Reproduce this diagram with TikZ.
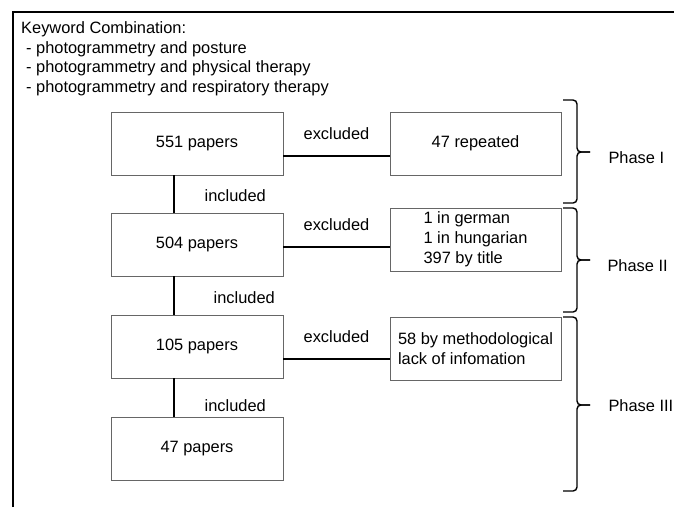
\documentclass[tikz,border=0pt]{standalone}
\usepackage{fontspec}
\setmainfont{Liberation Sans}
\usepackage{tikz}
\usetikzlibrary{positioning}
\newcommand{\flowfont}{\fontsize{16.4}{20}\selectfont}
\tikzstyle{keytext}=[anchor=north west, inner sep=0pt, align=left, font=\fontsize{16.4}{19.7}\selectfont]
\tikzstyle{paperbox}=[rectangle, draw=black!60, line width=0.8pt, minimum width=172pt, minimum height=63pt, text centered, font=\flowfont]
\tikzstyle{outbox}=[rectangle, draw=black!60, line width=0.8pt, minimum width=171pt, minimum height=63pt, align=left, font=\flowfont]
\tikzstyle{lbl}=[font=\flowfont]
\tikzstyle{link}=[draw=black, line width=1.3pt]
\tikzstyle{bracket}=[draw=black, line width=1.4pt, rounded corners=4pt]

\begin{document}
\begin{tikzpicture}[x=1pt,y=-1pt]
\useasboundingbox (0,0) rectangle (674,507);
%Frame
\draw[line width=2.6pt] (13,507) -- (13,12) -- (674,12);
\node[keytext] (kw) at (21,21.5){Keyword Combination:\\
\hspace*{5pt}- photogrammetry and posture\\
\hspace*{5pt}- photogrammetry and physical therapy\\
\hspace*{5pt}- photogrammetry and respiratory therapy};

%Papers
\node[paperbox] (p551) at (197,143.5){551 papers};
\node[paperbox] (p504) at (197,244.5){504 papers};
\node[paperbox] (p105) at (197,346.5){105 papers};
\node[paperbox] (p47) at (197,448.5){47 papers};
%Excluded
\node[outbox] (rep) at (475.5,143.5){47 repeated};
\node[outbox] (lang) at (475.5,239.5){1 in german\\1 in hungarian\\397 by title};
\node[outbox] (meth) at (475.5,348.5){58 by methodological\\lack of infomation};

%Links
\draw[link] ([yshift=-12.5pt]p551.east) -- ([yshift=-12.5pt]p551.east -| rep.west) node[lbl, midway, above=12pt]{excluded};
\draw[link] ([yshift=-2.5pt]p504.east) -- ([yshift=-2.5pt]p504.east -| lang.west) node[lbl, midway, above=12pt]{excluded};
\draw[link] ([yshift=-12.5pt]p105.east) -- ([yshift=-12.5pt]p105.east -| meth.west) node[lbl, midway, above=12pt]{excluded};
\draw[link] ([xshift=-23pt]p551.south) -- ([xshift=-23pt]p504.north) node[lbl, pos=0.55, right=26.7pt]{included};
\draw[link] ([xshift=-23pt]p504.south) -- ([xshift=-23pt]p105.north) node[lbl, pos=0.56, right=35.7pt]{included};
\draw[link] ([xshift=-23pt]p105.south) -- ([xshift=-23pt]p47.north) node[lbl, pos=0.72, right=26.7pt]{included};

%Phases
\draw[bracket] (563,100) -- (577,100) -- (577,152) -- (590,152);
\draw[bracket] (563,203) -- (577,203) -- (577,152) -- (590,152);
\draw[bracket] (563,208) -- (577,208) -- (577,260) -- (590,260);
\draw[bracket] (563,312) -- (577,312) -- (577,260) -- (590,260);
\draw[bracket] (563,317) -- (577,317) -- (577,405) -- (590,405);
\draw[bracket] (563,491) -- (577,491) -- (577,405) -- (590,405);
\node[lbl, anchor=west] (ph1) at (605,158){Phase I};
\node[lbl, anchor=west] (ph2) at (604,266){Phase II};
\node[lbl, anchor=west] (ph3) at (605,406){Phase III};
\end{tikzpicture}
\end{document}
